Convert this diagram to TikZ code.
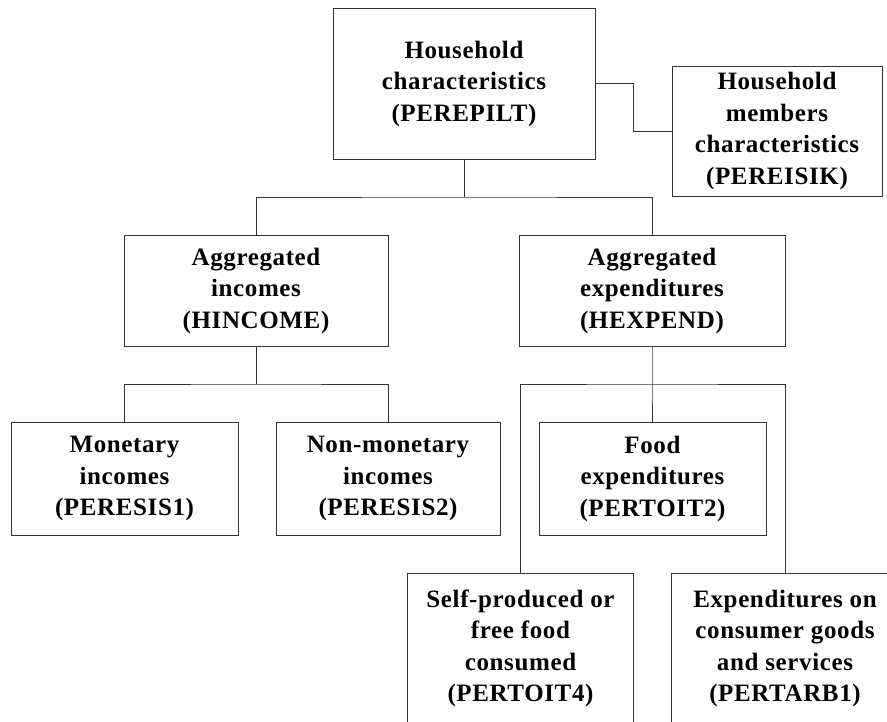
\documentclass[tikz,border=0pt]{standalone}
\usepackage{fontspec}
\setmainfont[LetterSpace=2.5]{Liberation Serif}
\begin{document}
\begin{tikzpicture}[x=1pt,y=-1pt,
  box/.style={draw=black!80, line width=1pt, rectangle, inner sep=0pt, align=center,
    font=\bfseries\fontsize{25}{31.5}\selectfont},
  conn/.style={draw=black!80, line width=1pt}]
\useasboundingbox (0,0) rectangle (887,721);
\clip (0,0) rectangle (887,721);
\node[box, minimum width=262, minimum height=151] (top) at (464,83.5) {Household\\characteristics\\(PEREPILT)};
\node[box, minimum width=210, minimum height=130] (members) at (777,131) {Household\\members\\characteristics\\(PEREISIK)};
\node[box, minimum width=264, minimum height=111] (inc) at (256,290.5) {Aggregated\\incomes\\(HINCOME)};
\node[box, minimum width=266, minimum height=111] (exp) at (652,290.5) {Aggregated\\expenditures\\(HEXPEND)};
\node[box, minimum width=227, minimum height=113] (mon) at (124.5,478.5) {Monetary\\incomes\\(PERESIS1)};
\node[box, minimum width=224, minimum height=113] (nonmon) at (388,478.5) {Non-monetary\\incomes\\(PERESIS2)};
\node[box, minimum width=227, minimum height=113] (food) at (652.5,478.5) {Food\\expenditures\\(PERTOIT2)};
\node[box, minimum width=226, minimum height=151] (self) at (520.5,648.5) {Self-produced or\\free food\\consumed\\(PERTOIT4)};
\node[box, minimum width=228, minimum height=151] (cons) at (785,648.5) {Expenditures on\\consumer goods\\and services\\(PERTARB1)};
\coordinate (j1) at (464,197);
\coordinate (j2) at (256,384);
\coordinate (j3) at (652,384);
\draw[conn] (top.south) -- (j1);
\draw[conn] (inc.north) |- (j1) -| (exp.north);
\draw[conn] (top.east) -- ++(38,0) |- (members.west);
\draw[conn] (inc.south) -- (j2);
\draw[conn] (mon.north) |- (j2) -| (nonmon.north);
\draw[conn] (exp.south) -- (j3) -- (j3 |- food.north);
\draw[conn] (self.north) |- (j3) -| (cons.north);
\end{tikzpicture}
\end{document}
